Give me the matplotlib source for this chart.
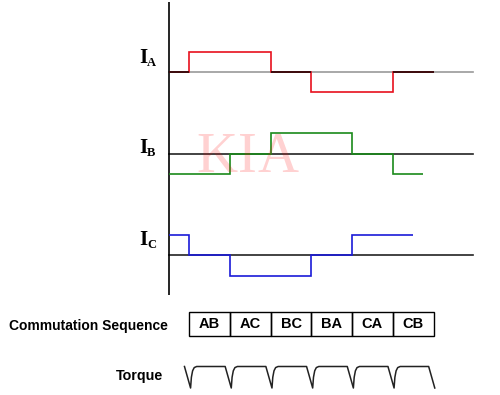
import matplotlib
matplotlib.use("Agg")
import matplotlib.pyplot as plt
import numpy as np

# ---- data ----
commutation = ["AB", "AC", "BC", "BA", "CA", "CB"]
sector_edges = [0.5, 1.5, 2.5, 3.5, 4.5, 5.5, 6.5]

ia_edges = [0, 0.5, 2.5, 3.5, 5.5, 6.5]
ia_levels = [0, 1, 0, -1, 0]
ib_edges = [0, 1.5, 2.5, 4.5, 5.5, 6.25]
ib_levels = [-1, 0, 1, 0, -1]
ic_edges = [0, 0.5, 1.5, 3.5, 4.5, 6.0]
ic_levels = [1, 0, -1, 0, 1]

# torque ripple profile around each commutation instant (offset in sectors, level)
dip_dt = [-0.12, 0.03, 0.05, 0.08, 0.12, 0.18]
dip_v = [1.0, 0.0, 0.5, 0.8, 0.95, 1.0]

# ---- layout (pixel based) ----
W, H = 500, 395
X0, UNIT = 169.0, 40.7
AMP = 20.4


def tx(px):
    return (px - X0) / UNIT


fig = plt.figure(figsize=(W / 100, H / 100), dpi=100)
ax = fig.add_axes([0, 0, 1, 1])
ax.set_xlim(tx(0), tx(W))
ax.set_ylim(H, 0)
ax.axis("off")

lw = 1.2
t_end = tx(473)

# vertical axis
ax.plot([0, 0], [2, 295], color="black", lw=lw, solid_capstyle="butt")

traces = [
    ("A", ia_edges, ia_levels, 72.0, "#e8101e", "#999999", 55),
    ("B", ib_edges, ib_levels, 153.7, "#1a8a1a", "#222222", 145),
    ("C", ic_edges, ic_levels, 255.3, "#1a1ad8", "#222222", 237),
]

for name, edges, levels, base, col, bcol, ly in traces:
    ax.plot([0, t_end], [base, base], color=bcol, lw=lw, zorder=1)
    vals = [base - AMP * v for v in levels]
    ax.stairs(vals, edges, baseline=None, color=col, lw=lw, zorder=2)
    if name == "A":
        for i, v in enumerate(levels):
            if v == 0:
                ax.plot([edges[i], edges[i + 1]], [base, base], color="#200808",
                        lw=lw, zorder=3, solid_capstyle="butt")
    ax.text(tx(139), ly + 8, "I", family="Liberation Serif", weight="bold",
            fontsize=15, ha="left", va="baseline")
    ax.text(tx(147), ly + 11, name, family="Liberation Serif", weight="bold",
            fontsize=9, ha="left", va="baseline")

# commutation sequence boxes
box_top, box_bot = 311.7, 335.7
for i, lab in enumerate(commutation):
    a, b = sector_edges[i], sector_edges[i + 1]
    ax.add_patch(plt.Rectangle((a, box_top), b - a, box_bot - box_top,
                               fill=False, edgecolor="black", lw=1.0))
    ax.text((a + b) / 2, (box_top + box_bot) / 2 + 0.5, lab, family="Liberation Sans",
            weight="bold", fontsize=10.5, ha="center", va="center")

ax.text(tx(168), 326, "Commutation Sequence", family="Liberation Sans", weight="bold",
        fontsize=10, ha="right", va="center")
ax.text(tx(163), 376, "Torque", family="Liberation Sans", weight="bold",
        fontsize=10.3, ha="right", va="center")

# torque waveform
tq_top, tq_bot = 366.5, 388.0
tt, tv = [], []
for e in sector_edges[:-1]:
    tt += [e + d for d in dip_dt]
    tv += dip_v
tt += [sector_edges[-1] + dip_dt[0], sector_edges[-1] + dip_dt[1]]
tv += [dip_v[0], dip_v[1]]
ty = [tq_bot - (tq_bot - tq_top) * v for v in tv]
ax.plot(tt, ty, color="#222222", lw=1.1)

# watermark
for ch, cx in zip("KIA", [217, 247, 278]):
    ax.text(tx(cx), 158, ch, family="Liberation Serif", fontsize=41,
            color="red", alpha=0.18, ha="center", va="center", zorder=10)

fig.savefig("out.png", dpi=100)
